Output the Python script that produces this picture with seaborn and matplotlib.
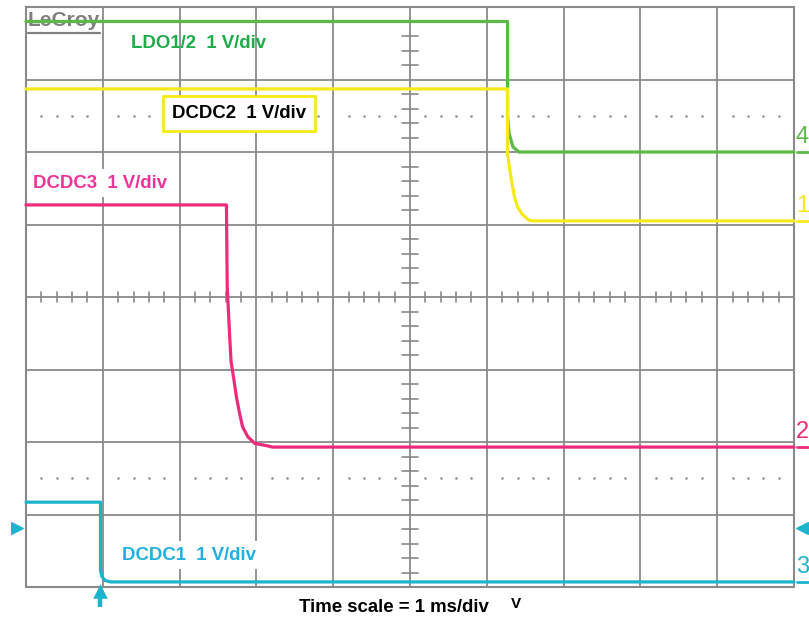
import pandas as pd
import seaborn as sns
import matplotlib.pyplot as plt
import numpy as np

# trace breakpoints: time in ms (1 ms/div), level in divisions
ldo_t = [0.0, 6.27, 6.27, 6.29, 6.34, 6.42, 10.0]
ldo_v = [3.80, 3.80, 2.49, 2.26, 2.07, 2.00, 2.00]

dcdc2_t = [0.0, 6.27, 6.27, 6.32, 6.36, 6.40, 6.47, 6.55, 6.60, 10.0]
dcdc2_v = [2.87, 2.87, 1.97, 1.61, 1.38, 1.24, 1.13, 1.06, 1.05, 1.05]

dcdc3_t = [0.0, 2.61, 2.62, 2.65, 2.67, 2.71, 2.74, 2.78, 2.82, 2.89, 2.98, 3.13, 3.21, 10.0]
dcdc3_v = [1.27, 1.27, 0.14, -0.50, -0.89, -1.16, -1.38, -1.60, -1.79, -1.93, -2.02, -2.05, -2.07, -2.07]

dcdc1_t = [0.0, 0.97, 0.97, 0.99, 1.03, 1.10, 10.0]
dcdc1_v = [-2.83, -2.83, -3.77, -3.86, -3.91, -3.93, -3.93]

trace_names = ["LDO1/2", "DCDC2", "DCDC3", "DCDC1"]
trace_colors = ["#5cb947", "#f5e91a", "#ee2a7b", "#1bb4cc"]
channel_nums = ["4", "1", "2", "3"]

frames = []
for name, t, v in zip(trace_names, [ldo_t, dcdc2_t, dcdc3_t, dcdc1_t],
                      [ldo_v, dcdc2_v, dcdc3_v, dcdc1_v]):
    frames.append(pd.DataFrame({"t": t, "v": v, "trace": name}))
df = pd.concat(frames, ignore_index=True)

sns.set_style("white")
plt.rcParams['font.family'] = ['Liberation Sans', 'DejaVu Sans']

fig = plt.figure(figsize=(8.09, 6.22), dpi=100)
ax = fig.add_axes([26 / 809, 35 / 622, 768 / 809, 580 / 622])
ax.set_xlim(0, 10)
ax.set_ylim(-4, 4)

grid_col = "#8a8a8a"
# major graticule
for gx in range(1, 10):
    ax.axvline(gx, color=grid_col, lw=1.3, zorder=1)
for gy in range(-3, 4):
    ax.axhline(gy, color=grid_col, lw=1.3, zorder=1)
for s in ax.spines.values():
    s.set_color(grid_col)
    s.set_linewidth(1.5)
ax.set_xticks([])
ax.set_yticks([])

# minor ticks on the centre cross
minor_x = [x / 5 for x in range(1, 50) if x % 5 != 0]
minor_y = [y / 5 for y in range(-19, 20) if y % 5 != 0]
ax.plot([minor_x, minor_x], [[-0.07] * len(minor_x), [0.07] * len(minor_x)],
        color=grid_col, lw=1.2, zorder=1)
ax.plot([[4.9] * len(minor_y), [5.1] * len(minor_y)], [minor_y, minor_y],
        color=grid_col, lw=1.2, zorder=1)

# dotted rows at +/-2.5 div
for dy in [2.5, -2.5]:
    ax.scatter(minor_x, [dy] * len(minor_x), s=1.0, color="#a0a0a0", zorder=1)

# traces
palette = dict(zip(trace_names, trace_colors))
sns.lineplot(data=df, x="t", y="v", hue="trace", palette=palette, sort=False,
             estimator=None, lw=2.3, legend=False, ax=ax, zorder=3)
for line in ax.get_lines()[-4:]:
    line.set_clip_on(False)
ax.set_xlabel("")
ax.set_ylabel("")

# channel numbers on the right, with the short level dash
last_levels = [ldo_v[-1], dcdc2_v[-1], dcdc3_v[-1], dcdc1_v[-1]]
for num, col, lv in zip(channel_nums, trace_colors, last_levels):
    ax.plot([10.04, 10.18], [lv, lv], color=col, lw=2.0, clip_on=False, zorder=3)
    ax.text(10.11, lv + 0.05, num, color=col, fontsize=17, ha="center",
            va="bottom", clip_on=False)

# trace labels
lab_size = 13.4
ax.text(1.37, 3.49, "LDO1/2  1 V/div", color="#1fab4a", fontsize=lab_size,
        fontweight="bold", va="center", ha="left", zorder=4)
ax.text(1.9, 2.53, "DCDC2  1 V/div", color="black", fontsize=lab_size,
        fontweight="bold", va="center", ha="left", zorder=4,
        bbox=dict(boxstyle="square,pad=0.5", fc="white", ec="#f5e91a", lw=2))
ax.text(0.09, 1.57, "DCDC3  1 V/div", color="#ee3399", fontsize=lab_size,
        fontweight="bold", va="center", ha="left", zorder=4,
        bbox=dict(boxstyle="square,pad=0.3", fc="white", ec="none"))
ax.text(1.25, -3.56, "DCDC1  1 V/div", color="#1fb0e0", fontsize=lab_size,
        fontweight="bold", va="center", ha="left", zorder=4,
        bbox=dict(boxstyle="square,pad=0.3", fc="white", ec="none"))

# LeCroy logo
ax.text(0.02, 3.81, "LeCroy", color="#808080", fontsize=15, fontweight="bold",
        va="center", ha="left", zorder=2)
ax.plot([0.02, 0.96], [3.64, 3.64], color="#808080", lw=1.6, zorder=2)

# trigger markers
ax.scatter([-0.12], [-3.19], marker=">", s=70, color="#1bb4cc", clip_on=False, zorder=4)
ax.scatter([10.1], [-3.19], marker="<", s=70, color="#1bb4cc", clip_on=False, zorder=4)
ax.plot([0.97, 0.97], [-4.08, -4.27], color="#1bb4cc", lw=3.2, clip_on=False,
        solid_capstyle="butt", zorder=4)
ax.scatter([0.97], [-4.06], marker="^", s=110, color="#1bb4cc", clip_on=False,
           linewidths=0, zorder=4)

# time scale caption
ax.text(3.55, -4.28, "Time scale = 1 ms/div", color="black", fontsize=lab_size,
        fontweight="bold", va="center", ha="left", clip_on=False)
ax.text(6.32, -4.23, "V", color="black", fontsize=11, fontweight="bold",
        va="center", ha="left", clip_on=False)

fig.savefig("out.png", dpi=100, facecolor="white")
